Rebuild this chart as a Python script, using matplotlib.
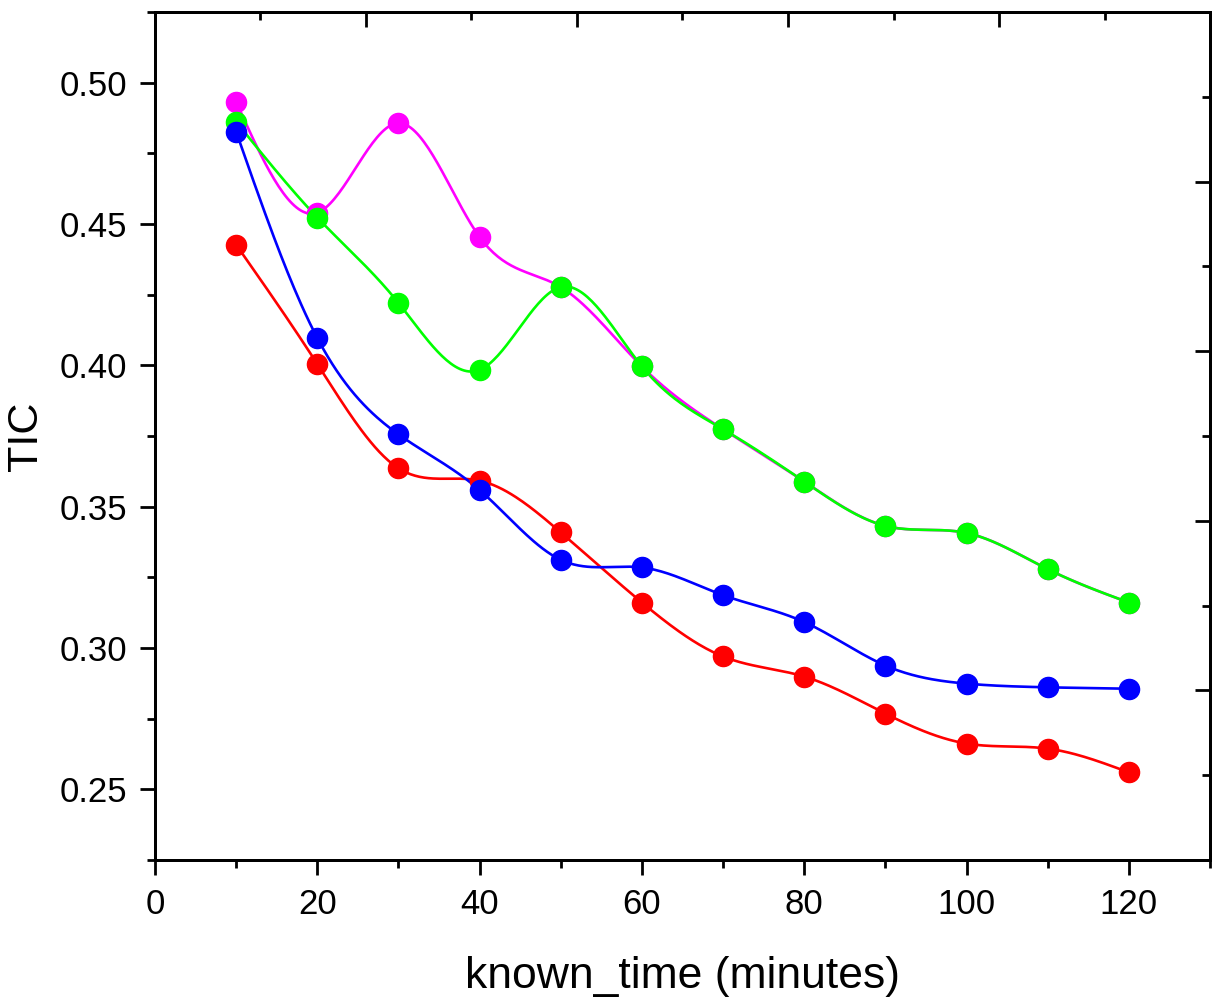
import numpy as np
import matplotlib
matplotlib.use("Agg")
import matplotlib.pyplot as plt
from matplotlib.ticker import MultipleLocator

# =========================
# DATA
# =========================
known_time = [10, 20, 30, 40, 50, 60, 70, 80, 90, 100, 110, 120]

tic_magenta = [0.4933, 0.4540, 0.4857, 0.4454, 0.4277, 0.3996, 0.3774, 0.3589, 0.3432, 0.3407, 0.3279, 0.3161]
tic_green = [0.4862, 0.4523, 0.4221, 0.3984, 0.4277, 0.3996, 0.3774, 0.3589, 0.3432, 0.3407, 0.3279, 0.3161]
tic_red = [0.4427, 0.4005, 0.3636, 0.3592, 0.3409, 0.3161, 0.2970, 0.2899, 0.2768, 0.2662, 0.2644, 0.2560]
tic_blue = [0.4827, 0.4097, 0.3756, 0.3559, 0.3312, 0.3285, 0.3187, 0.3092, 0.2938, 0.2874, 0.2861, 0.2856]

x_ticks = [0, 20, 40, 60, 80, 100, 120]
y_ticks = [0.25, 0.30, 0.35, 0.40, 0.45, 0.50]


# natural cubic spline, only used to draw the connecting curve
def spline(x, y, n=400):
    x = np.asarray(x, float)
    y = np.asarray(y, float)
    k = len(x)
    h = np.diff(x)
    A = np.zeros((k, k))
    b = np.zeros(k)
    A[0, 0] = 1
    A[-1, -1] = 1
    for i in range(1, k - 1):
        A[i, i - 1] = h[i - 1]
        A[i, i] = 2 * (h[i - 1] + h[i])
        A[i, i + 1] = h[i]
        b[i] = 6 * ((y[i + 1] - y[i]) / h[i] - (y[i] - y[i - 1]) / h[i - 1])
    M = np.linalg.solve(A, b)
    xs = np.linspace(x[0], x[-1], n)
    idx = np.clip(np.searchsorted(x, xs) - 1, 0, k - 2)
    x0, x1 = x[idx], x[idx + 1]
    hh = x1 - x0
    t0 = x1 - xs
    t1 = xs - x0
    ys = (M[idx] * t0 ** 3 + M[idx + 1] * t1 ** 3) / (6 * hh) \
        + (y[idx] / hh - M[idx] * hh / 6) * t0 \
        + (y[idx + 1] / hh - M[idx + 1] * hh / 6) * t1
    return xs, ys


plt.rcParams["font.family"] = ["Liberation Sans", "DejaVu Sans"]

fig = plt.figure(figsize=(12.22, 10.02), dpi=100)
ax = fig.add_axes([0.1268, 0.1417, 0.8634, 0.8463])

series = [
    (tic_magenta, "#FF00FF"),
    (tic_green, "#00FF00"),
    (tic_red, "#FF0000"),
    (tic_blue, "#0000FF"),
]
for vals, col in series:
    xs, ys = spline(known_time, vals)
    ax.plot(xs, ys, color=col, lw=1.9, zorder=2)
    ax.plot(known_time, vals, "o", color=col, ms=14.5, mec=col, zorder=3)

ax.set_xlim(0, 130)
ax.set_ylim(0.225, 0.525)
ax.set_xticks(x_ticks)
ax.set_yticks(y_ticks)
ax.set_yticklabels([f"{v:.2f}" for v in y_ticks])
ax.xaxis.set_minor_locator(MultipleLocator(10))
ax.yaxis.set_minor_locator(MultipleLocator(0.025))

ax.tick_params(which="major", direction="out", length=11, width=2, labelsize=25, pad=9)
ax.tick_params(which="minor", direction="out", length=5.5, width=2)
for s in ax.spines.values():
    s.set_linewidth(2)

ax.set_xlabel("known_time (minutes)", fontsize=32, labelpad=25)
ax.set_ylabel("TIC", fontsize=31, labelpad=10)

# top and right frame ticks (unlabelled)
ax_top = ax.twiny()
ax_top.set_xlim(0, 1)
ax_top.xaxis.set_major_locator(MultipleLocator(0.2))
ax_top.xaxis.set_minor_locator(MultipleLocator(0.1))
ax_top.tick_params(which="major", direction="in", length=11, width=2, labeltop=False)
ax_top.tick_params(which="minor", direction="in", length=5.5, width=2)

ax_right = ax.twinx()
ax_right.set_ylim(0, 1)
ax_right.yaxis.set_major_locator(MultipleLocator(0.2))
ax_right.yaxis.set_minor_locator(MultipleLocator(0.1))
ax_right.tick_params(which="major", direction="in", length=11, width=2, labelright=False)
ax_right.tick_params(which="minor", direction="in", length=5.5, width=2)

for a in (ax_top, ax_right):
    for s in a.spines.values():
        s.set_linewidth(2)

fig.savefig("out.png", dpi=100)
